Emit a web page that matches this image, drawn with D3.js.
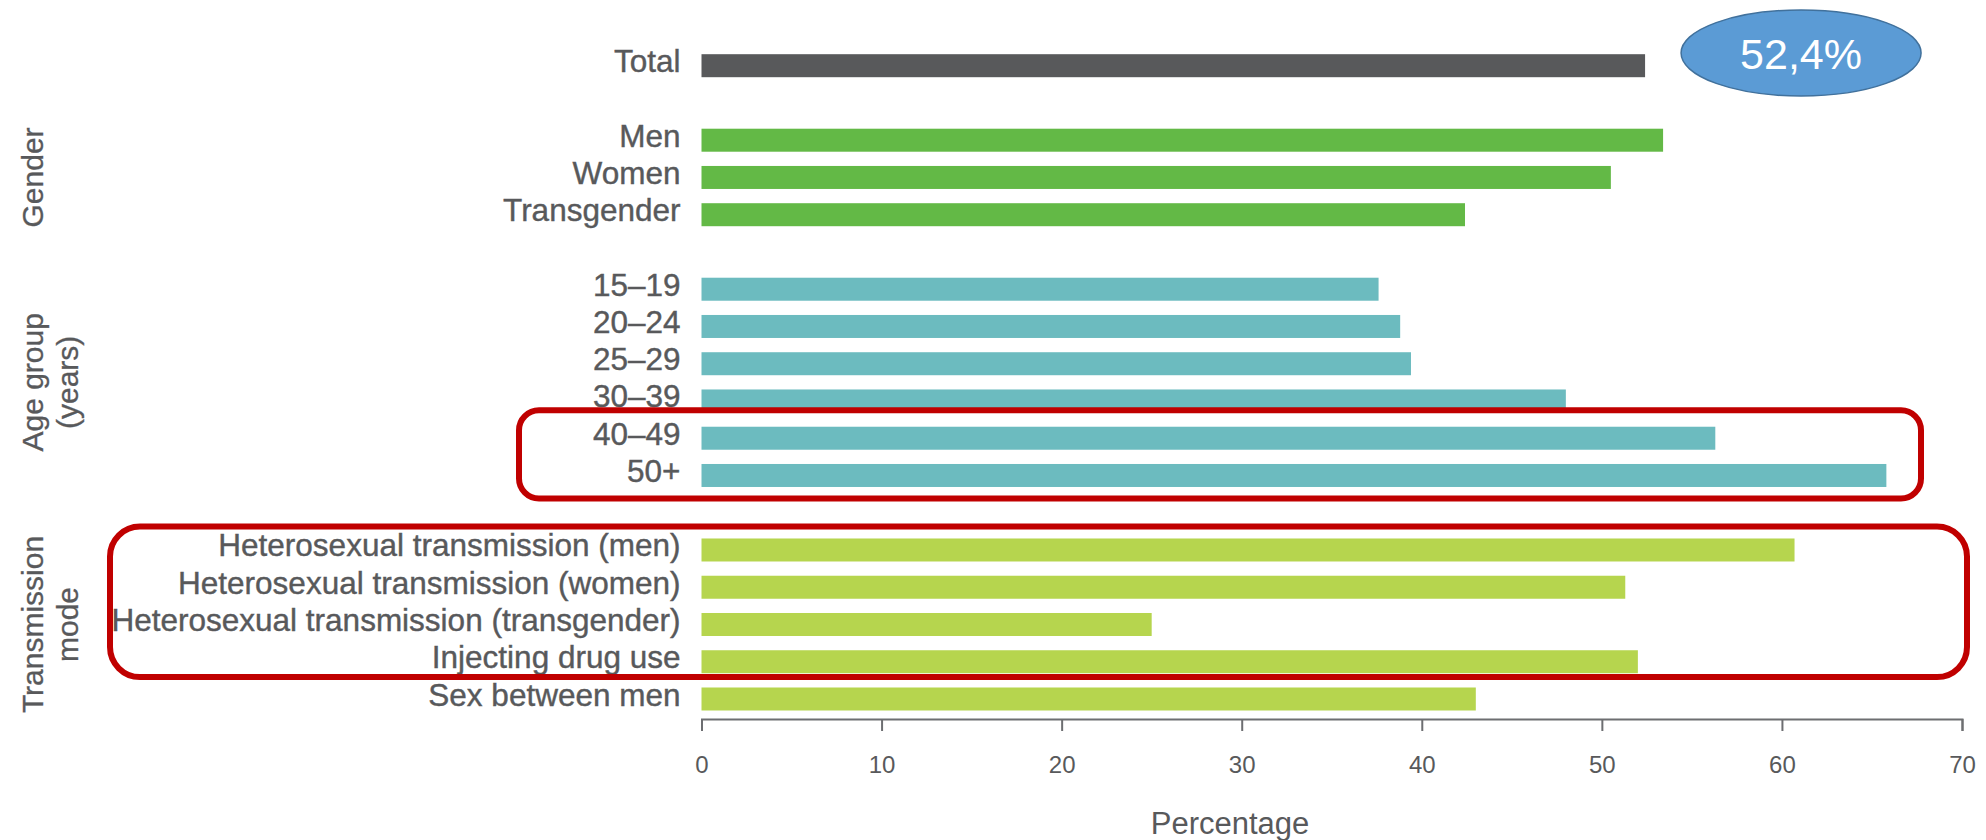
<!DOCTYPE html>
<html>
<head>
<meta charset="utf-8">
<script src="https://cdn.jsdelivr.net/npm/d3@7"></script>
<style>
  html, body { margin: 0; padding: 0; background: #ffffff; }
  svg { display: block; }
  text { font-family: "Liberation Sans", Arial, sans-serif; }
</style>
</head>
<body>
<svg id="chart" width="1986" height="840"></svg>
<script>
// ---- data ----
const categories = [
  "Total",
  "Men", "Women", "Transgender",
  "15–19", "20–24", "25–29", "30–39", "40–49", "50+",
  "Heterosexual transmission (men)", "Heterosexual transmission (women)",
  "Heterosexual transmission (transgender)", "Injecting drug use", "Sex between men"
];
const values = [52.4, 53.4, 50.5, 42.4, 37.6, 38.8, 39.4, 48.0, 56.3, 65.8, 60.7, 51.3, 25.0, 52.0, 43.0];
const groups = ["total", "gender", "gender", "gender", "age", "age", "age", "age", "age", "age",
  "mode", "mode", "mode", "mode", "mode"];
const groupNames = ["total", "gender", "age", "mode"];
const groupColors = ["#58595b", "#63b946", "#6cbbbf", "#b6d54e"];
const groupTitles = [[], ["Gender"], ["Age group", "(years)"], ["Transmission", "mode"]];
const xTicks = [0, 10, 20, 30, 40, 50, 60, 70];
const xTitle = "Percentage";
const calloutText = "52,4%";
const highlightA = ["40–49", "50+"];
const highlightB = ["Heterosexual transmission (men)", "Injecting drug use"];

// ---- layout ----
const svg = d3.select("#chart");
const textColor = "#58595b";
const axisColor = "#6d6e71";

// row slots: categories with spacer rows between groups
const slots = [];
categories.forEach((c, i) => {
  if (i > 0 && groups[i] !== groups[i - 1]) slots.push("__gap" + i);
  slots.push(c);
});

const x = d3.scaleLinear().domain([0, 70]).range([701.5, 1962]);
const y = d3.scalePoint().domain(slots).range([65.7, 699]);
const barH = 23;
const color = d3.scaleOrdinal().domain(groupNames).range(groupColors);

const rows = categories.map((c, i) => ({ name: c, value: values[i], group: groups[i] }));

// bars
svg.append("g").selectAll("rect").data(rows).join("rect")
  .attr("x", x(0))
  .attr("y", d => y(d.name) - barH / 2)
  .attr("width", d => x(d.value) - x(0))
  .attr("height", barH)
  .attr("fill", d => color(d.group));

// category labels
svg.append("g").selectAll("text").data(rows).join("text")
  .attr("x", x(0) - 21)
  .attr("y", d => y(d.name) + 6.5)
  .attr("text-anchor", "end")
  .attr("font-size", 31.5)
  .attr("fill", textColor)
  .attr("stroke", textColor).attr("stroke-width", 0.4)
  .text(d => d.name);

// group titles (rotated)
groupNames.forEach((g, gi) => {
  const lines = groupTitles[gi];
  if (!lines.length) return;
  const members = rows.filter(r => r.group === g);
  const cy = (y(members[0].name) + y(members[members.length - 1].name)) / 2;
  lines.forEach((ln, li) => {
    const bx = 43 + li * 35;
    svg.append("text")
      .attr("transform", `translate(${bx},${cy}) rotate(-90)`)
      .attr("text-anchor", "middle")
      .attr("font-size", 30)
      .attr("fill", textColor)
      .attr("stroke", textColor).attr("stroke-width", 0.3)
      .text(ln);
  });
});

// x axis
const axisY = 719;
const axis = d3.axisBottom(x).tickValues(xTicks).tickSize(12).tickSizeOuter(12).tickPadding(25)
  .tickFormat(d3.format("d"));
const gx = svg.append("g").attr("transform", `translate(0,${axisY})`).call(axis);
gx.select(".domain").attr("stroke", axisColor).attr("stroke-width", 2);
gx.selectAll(".tick line").attr("stroke", axisColor).attr("stroke-width", 2);
gx.selectAll(".tick text").attr("fill", textColor).attr("font-size", 24)
  .attr("font-family", "\"Liberation Sans\", Arial, sans-serif");

svg.append("text")
  .attr("x", 1230).attr("y", 834)
  .attr("text-anchor", "middle")
  .attr("font-size", 31)
  .attr("fill", textColor)
  .text(xTitle);

// callout ellipse for total
const totalVal = values[0];
svg.append("ellipse")
  .attr("cx", x(totalVal) + 156).attr("cy", 53)
  .attr("rx", 120).attr("ry", 43)
  .attr("fill", "#5b9bd5").attr("stroke", "#41719c").attr("stroke-width", 1.5);
svg.append("text")
  .attr("x", x(totalVal) + 156).attr("y", 69)
  .attr("text-anchor", "middle")
  .attr("font-size", 43)
  .attr("fill", "#ffffff")
  .text(calloutText);

// highlight boxes
function box(names, x0, x1, padTop, padBottom, r) {
  const y0 = y(names[0]) - barH / 2 - padTop;
  const y1 = y(names[names.length - 1]) + barH / 2 + padBottom;
  svg.append("rect")
    .attr("x", x0).attr("y", y0)
    .attr("width", x1 - x0).attr("height", y1 - y0)
    .attr("rx", r).attr("ry", r)
    .attr("fill", "none").attr("stroke", "#c00000").attr("stroke-width", 6);
}
box(highlightA, 519, 1921, 16.5, 11.5, 20);
box(highlightB, 110, 1967, 12, 3.8, 30);
</script>
</body>
</html>
